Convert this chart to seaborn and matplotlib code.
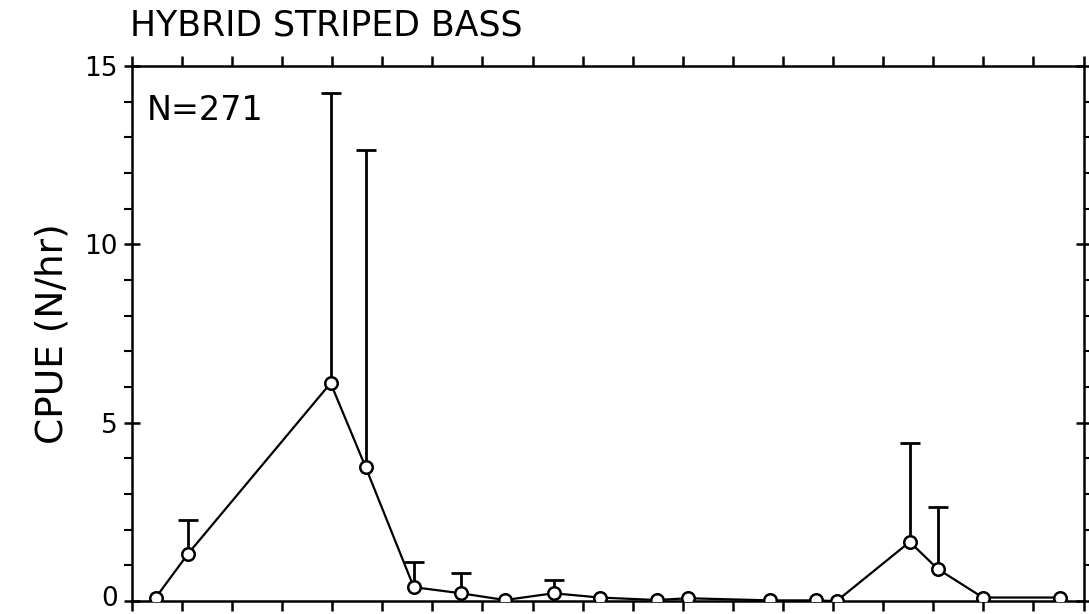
import matplotlib
matplotlib.use("Agg")
import matplotlib.pyplot as plt
import matplotlib.transforms as mtransforms
import numpy as np
import pandas as pd
import seaborn as sns

# sampling positions along the (unlabelled) x axis, one unit per tick mark
sample_pos = [0.48, 1.12, 3.97, 4.67, 5.63, 6.57, 7.45, 8.42, 9.34, 10.48,
              11.10, 12.75, 13.65, 14.07, 15.53, 16.09, 16.99, 18.52]
# mean catch per unit effort
cpue = [0.10, 1.32, 6.11, 3.75, 0.39, 0.22, 0.03, 0.22, 0.10, 0.03,
        0.08, 0.02, 0.02, 0.00, 1.66, 0.90, 0.10, 0.10]
# top of the error bar, nan where no bar is drawn
err_top = [np.nan, 2.27, 14.24, 12.64, 1.09, 0.79, np.nan, 0.59, np.nan, np.nan,
           np.nan, np.nan, np.nan, np.nan, 4.43, 2.64, np.nan, np.nan]

df = pd.DataFrame({"pos": sample_pos, "cpue": cpue, "top": err_top})

sns.set_style("ticks")
plt.rcParams['font.family'] = ['DejaVu Sans']
plt.rcParams['text.color'] = 'black'
plt.rcParams['axes.labelcolor'] = 'black'
plt.rcParams['xtick.color'] = 'black'
plt.rcParams['ytick.color'] = 'black'

fig, ax = plt.subplots(figsize=(10.89, 6.14), dpi=100)
fig.subplots_adjust(left=0.121, right=0.995, top=0.8925, bottom=0.021)

# upper error bars only
eb = df.dropna(subset=["top"])
_, caps, _ = ax.errorbar(eb["pos"], eb["cpue"],
                         yerr=[np.zeros(len(eb)), eb["top"] - eb["cpue"]],
                         fmt='none', ecolor='black', elinewidth=2, capsize=7,
                         capthick=2, zorder=2)
caps[0].set_visible(False)  # no cap at the bottom end

sns.lineplot(data=df, x="pos", y="cpue", ax=ax, color='black', linewidth=1.6,
             marker='o', markersize=9, markerfacecolor='white',
             markeredgecolor='black', markeredgewidth=1.8, zorder=3)

ax.set_xlim(0, 19)
ax.set_ylim(0, 15)
ax.set_xticks(np.arange(0, 20))
ax.set_yticks([0, 5, 10, 15])
ax.set_yticks(np.arange(0, 16), minor=True)
ax.set_xticklabels([])
ax.set_xlabel("")
ax.set_ylabel("CPUE (N/hr)", fontsize=27, labelpad=10)

for s in ax.spines.values():
    s.set_visible(True)
    s.set_linewidth(1.8)
    s.set_color('black')

ax.tick_params(axis='x', which='major', direction='out', length=7, width=1.8,
               top=True, bottom=True, labelbottom=False)
ax.tick_params(axis='y', which='major', direction='inout', length=12, width=1.8,
               left=True, right=True, labelsize=19, pad=4)
ax.tick_params(axis='y', which='minor', direction='out', length=6, width=1.5,
               left=True, right=True)

# keep the "0" label inside the figure
fig.canvas.draw()
zero_lbl = ax.get_yticklabels()[0]
zero_lbl.set_transform(zero_lbl.get_transform() +
                       mtransforms.ScaledTranslation(0, 4 / 72, fig.dpi_scale_trans))

ax.text(0.3, 13.5, "N=271", fontsize=24, ha='left', va='baseline')
fig.text(0.119, 0.942, "HYBRID STRIPED BASS", fontsize=25, ha='left', va='baseline')

fig.savefig("out.png", dpi=100)
